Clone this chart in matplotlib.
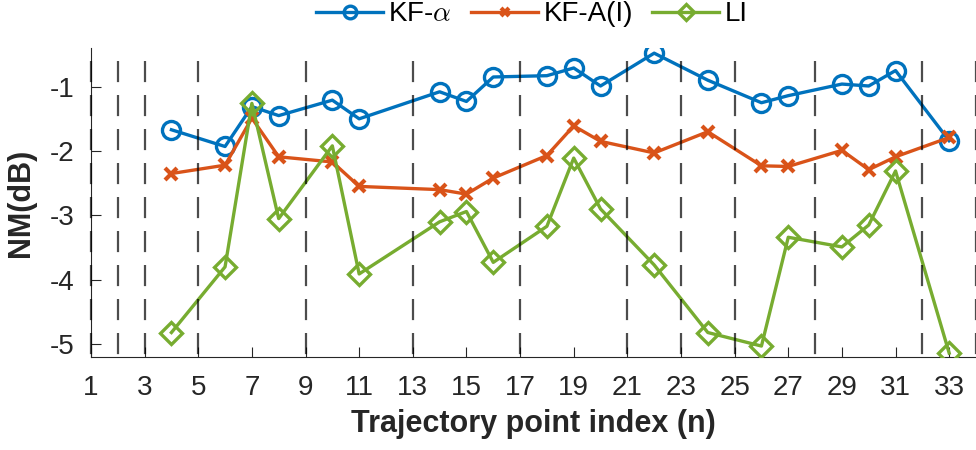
import matplotlib
matplotlib.use("Agg")
import matplotlib.pyplot as plt

plt.rcParams['font.family'] = ['Liberation Sans', 'DejaVu Sans']
plt.rcParams['mathtext.fontset'] = 'cm'
plt.rcParams['axes.unicode_minus'] = False

# trajectory indices where each method was evaluated
idx = [4, 6, 7, 8, 10, 11, 14, 15, 16, 18, 19, 20, 22, 24, 26, 27, 29, 30, 31, 33]

kf_alpha = [-1.67, -1.93, -1.31, -1.45, -1.21, -1.50, -1.08, -1.23, -0.85, -0.83,
            -0.71, -0.99, -0.48, -0.90, -1.25, -1.14, -0.96, -0.99, -0.75, -1.84]
kf_ai = [-2.35, -2.22, -1.49, -2.09, -2.17, -2.55, -2.60, -2.67, -2.42, -2.07,
         -1.61, -1.85, -2.03, -1.70, -2.23, -2.24, -1.99, -2.29, -2.09, -1.79]
li = [-4.82, -3.80, -1.26, -3.05, -1.92, -3.91, -3.10, -2.94, -3.73, -3.17,
      -2.11, -2.90, -3.77, -4.82, -5.03, -3.34, -3.49, -3.15, -2.31, -5.14]

# dashed separators
sep_x = [1, 2, 3, 5, 9, 13, 17, 21, 23, 25, 28, 32, 34]
sep_top, sep_bottom = -0.6, -5.2

xticks = list(range(1, 34, 2))
yticks = [-5, -4, -3, -2, -1]

fig = plt.figure(figsize=(9.76, 4.5), dpi=100)
ax = fig.add_axes([0.0932, 0.2067, 0.9068, 0.6866])

l1, = ax.plot(idx, kf_alpha, color='#0072BD', lw=2.4, marker='o', ms=13,
              mfc='none', mew=2.4, label=r'KF-$\alpha$', zorder=3)
l2, = ax.plot(idx, kf_ai, color='#D95319', lw=2.4, marker='x', ms=9,
              mew=3, label='KF-A(I)', zorder=3)
l3, = ax.plot(idx, li, color='#77AC30', lw=2.4, marker='D', ms=11,
              mfc='none', mew=2.4, label='LI', zorder=3)

for xv in sep_x:
    ax.plot([xv, xv], [sep_top, sep_bottom], color='black', lw=1.6, alpha=0.7,
            dashes=(9.5, 5.8), zorder=4, clip_on=False)

ax.set_xlim(1, 34)
ax.set_ylim(-5.2, -0.4)
ax.set_xticks(xticks)
ax.set_yticks(yticks)
ax.tick_params(direction='in', length=7, width=0.8, labelsize=20,
               colors='#262626', pad=13)
ax.tick_params(axis='y', pad=12)
for s in ['top', 'right']:
    ax.spines[s].set_visible(False)
for s in ['left', 'bottom']:
    ax.spines[s].set_color('#262626')
    ax.spines[s].set_linewidth(0.8)

ax.set_xlabel('Trajectory point index (n)', fontsize=22, fontweight='bold',
              color='#262626', labelpad=6)
ax.set_ylabel('NM(dB)', fontsize=22, fontweight='bold', color='#262626',
              labelpad=10)

fig.legend(handles=[l1, l2, l3], loc='center', bbox_to_anchor=(0.545, 0.968),
           ncol=3, frameon=False, fontsize=20, handlelength=2.4,
           handletextpad=0.2, columnspacing=0.7, markerscale=0.7)

fig.savefig('out.png', dpi=100)
